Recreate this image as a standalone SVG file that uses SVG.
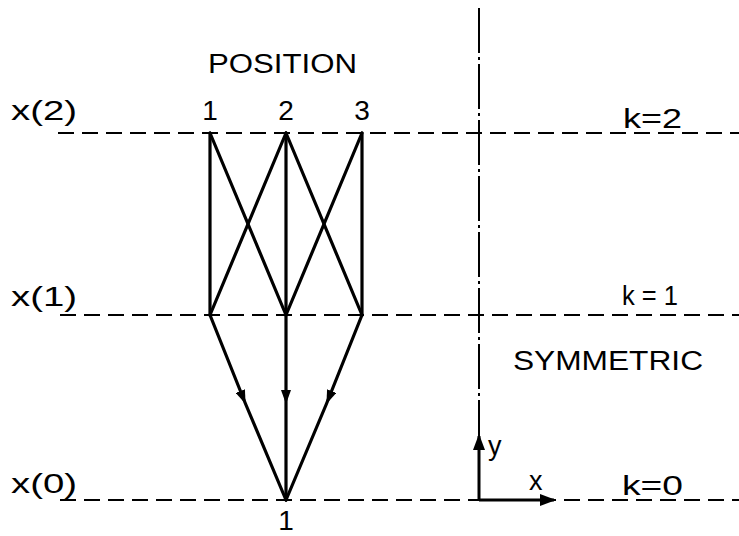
<svg xmlns="http://www.w3.org/2000/svg" width="739" height="536" viewBox="0 0 739 536">
<style>
text{font-family:"Liberation Sans","DejaVu Sans",sans-serif;fill:#000;font-size:27px}
.num{font-size:28px}
.dash{stroke:#000;stroke-width:2;stroke-dasharray:16 8;fill:none}
.edge{stroke:#000;stroke-width:3.2;fill:none;stroke-linecap:round}
.axis{stroke:#000;stroke-width:3;fill:none}
</style>
<defs>
<marker id="mid" markerWidth="16" markerHeight="10" refX="14" refY="5" orient="auto" markerUnits="userSpaceOnUse">
<path d="M0,0 L14,5 L0,10 Z" fill="#000"/>
</marker>
<marker id="ax" markerWidth="16" markerHeight="12" refX="14" refY="6" orient="auto" markerUnits="userSpaceOnUse">
<path d="M0,0 L16,6 L0,12 Z" fill="#000"/>
</marker>
</defs>
<g id="guides">
<line class="dash" x1="58" y1="133" x2="739" y2="133"/>
<line class="dash" x1="60" y1="315" x2="739" y2="315"/>
<line class="dash" x1="60" y1="500" x2="739" y2="500"/>
<line x1="479" y1="8" x2="479" y2="500" stroke="#000" stroke-width="2" stroke-dasharray="45 4 3 4"/>
</g>
<g id="connectors">
<line class="edge" x1="210" y1="133" x2="210" y2="315"/>
<line class="edge" x1="286" y1="133" x2="286" y2="315"/>
<line class="edge" x1="362" y1="133" x2="362" y2="315"/>
<line class="edge" x1="210" y1="133" x2="286" y2="315"/>
<line class="edge" x1="286" y1="133" x2="210" y2="315"/>
<line class="edge" x1="286" y1="133" x2="362" y2="315"/>
<line class="edge" x1="362" y1="133" x2="286" y2="315"/>
<path class="edge" d="M210,315 L245.6,404 L286,500" marker-mid="url(#mid)"/>
<path class="edge" d="M286,315 L286,404 L286,500" marker-mid="url(#mid)"/>
<path class="edge" d="M362,315 L326.4,404 L286,500" marker-mid="url(#mid)"/>
</g>
<g id="axes">
<line class="axis" x1="479" y1="500" x2="479" y2="436" marker-end="url(#ax)"/>
<line class="axis" x1="479" y1="500" x2="554" y2="500" marker-end="url(#ax)"/>
<text x="488" y="455" font-size="26">y</text>
<text x="529" y="490" font-size="26">x</text>
</g>
<g id="labels">
<text x="208" y="73" textLength="149" lengthAdjust="spacingAndGlyphs">POSITION</text>
<text class="num" x="210" y="120" text-anchor="middle">1</text>
<text class="num" x="286" y="120" text-anchor="middle">2</text>
<text class="num" x="362" y="120" text-anchor="middle">3</text>
<text x="11" y="120" textLength="66" lengthAdjust="spacingAndGlyphs">x(2)</text>
<text x="11" y="306" textLength="66" lengthAdjust="spacingAndGlyphs">x(1)</text>
<text x="11" y="493" textLength="66" lengthAdjust="spacingAndGlyphs">x(0)</text>
<text x="623" y="128" textLength="59" lengthAdjust="spacingAndGlyphs">k=2</text>
<text x="622" y="305" font-size="28" textLength="56" lengthAdjust="spacingAndGlyphs">k = 1</text>
<text x="622" y="495" textLength="61" lengthAdjust="spacingAndGlyphs">k=0</text>
<text x="513" y="370" textLength="190" lengthAdjust="spacingAndGlyphs">SYMMETRIC</text>
<text class="num" x="286" y="530" text-anchor="middle" font-size="25">1</text>
</g>
</svg>
